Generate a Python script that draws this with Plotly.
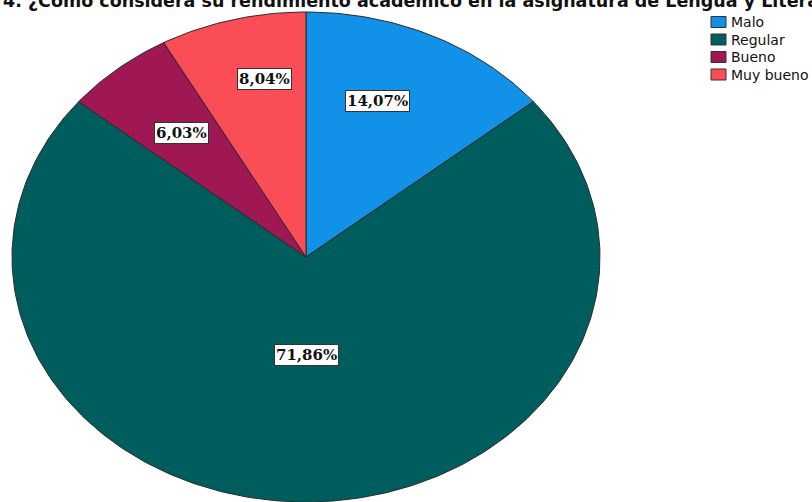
import numpy as np
import plotly.graph_objects as go

# ---- data ----
categories = ["Malo", "Regular", "Bueno", "Muy bueno"]
percentages = [14.07, 71.86, 6.03, 8.04]
label_texts = ["14,07%", "71,86%", "6,03%", "8,04%"]
title_text = "4. ¿Cómo considera su rendimiento académico en la asignatura de Lengua y Literatura?"

# ---- style / layout ----
colors = ["#1192e8", "#005d5d", "#9f1853", "#fa4d56"]
W, H = 812, 502
CX, CY = 306, 257
RX, RY = 294, 245
label_pos = [(0.572, 0.704), (0.40, 0.40), (0.66, 0.66), (0.57, 0.75)]
LEG_X, LEG_Y0, LEG_DY = 711, 22, 17.5

fig = go.Figure()

total = sum(percentages)
cum = 0.0
for i, (cat, val) in enumerate(zip(categories, percentages)):
    a0 = 2 * np.pi * cum / total
    a1 = 2 * np.pi * (cum + val) / total
    t = np.linspace(a0, a1, max(int(400 * val / total), 20))
    xs = np.concatenate([[CX], CX + RX * np.sin(t), [CX]])
    ys = np.concatenate([[CY], CY - RY * np.cos(t), [CY]])
    fig.add_trace(go.Scatter(
        x=xs, y=ys, mode="lines", fill="toself", fillcolor=colors[i],
        line=dict(color="#2a2a2a", width=1), name=cat, showlegend=False,
        hoverinfo="skip",
    ))
    amid = (a0 + a1) / 2
    fx, fy = label_pos[i]
    fig.add_annotation(
        x=CX + fx * RX * np.sin(amid), y=CY - fy * RY * np.cos(amid),
        xref="x", yref="y", text="<b>" + label_texts[i] + "</b>", showarrow=False,
        font=dict(family="DejaVu Serif", size=15, color="#111"),
        bgcolor="white", bordercolor="#333", borderwidth=1, borderpad=1,
    )
    cum += val

# legend (drawn manually to match the compact spacing)
for i, cat in enumerate(categories):
    yc = LEG_Y0 + LEG_DY * i
    fig.add_shape(type="rect", xref="x", yref="y",
                  x0=LEG_X, x1=LEG_X + 15, y0=yc - 5.5, y1=yc + 5.5,
                  fillcolor=colors[i], line=dict(color="#333", width=1))
    fig.add_annotation(x=LEG_X + 18, y=yc, xref="x", yref="y",
                       xanchor="left", yanchor="middle", text=cat, showarrow=False,
                       font=dict(family="DejaVu Sans", size=14, color="#111"))

fig.add_annotation(
    x=1, y=13, xref="x", yref="y", xanchor="left", yanchor="bottom",
    text="<b>" + title_text + "</b>", showarrow=False,
    font=dict(family="DejaVu Sans", size=17.5, color="#111"),
)

fig.update_layout(
    width=W, height=H, margin=dict(l=0, r=0, t=0, b=0),
    paper_bgcolor="white", plot_bgcolor="white",
    xaxis=dict(range=[0, W], visible=False, fixedrange=True),
    yaxis=dict(range=[H, 0], visible=False, fixedrange=True),
    showlegend=False,
)

fig.write_html("out.html", config={"displayModeBar": False},
               post_script="document.body.style.margin='0';")
